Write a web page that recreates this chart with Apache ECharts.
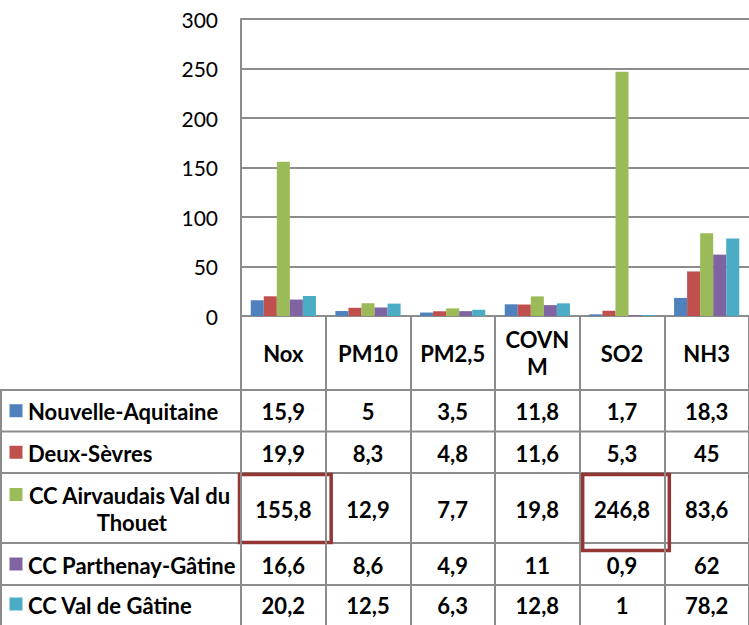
<!DOCTYPE html>
<html><head><meta charset="utf-8">
<script src="https://cdn.jsdelivr.net/npm/echarts@6/dist/echarts.min.js"></script>
<style>html,body{margin:0;padding:0;background:#fff}#c{width:749px;height:625px}</style>
</head><body><div id="c"></div>
<script>
const categories = ['Nox', 'PM10', 'PM2,5', 'COVNM', 'SO2', 'NH3'];
const categoryLabels = ['Nox', 'PM10', 'PM2,5', 'COVN\nM', 'SO2', 'NH3'];
const seriesNames = ['Nouvelle-Aquitaine', 'Deux-Sèvres', 'CC Airvaudais Val du Thouet', 'CC Parthenay-Gâtine', 'CC Val de Gâtine'];
const nouvelleAquitaine = [15.9, 5, 3.5, 11.8, 1.7, 18.3];
const deuxSevres = [19.9, 8.3, 4.8, 11.6, 5.3, 45];
const ccAirvaudais = [155.8, 12.9, 7.7, 19.8, 246.8, 83.6];
const ccParthenay = [16.6, 8.6, 4.9, 11, 0.9, 62];
const ccValDeGatine = [20.2, 12.5, 6.3, 12.8, 1, 78.2];
const yTicks = [0, 50, 100, 150, 200, 250, 300];
const highlightedCells = [[2, 0], [2, 4]]; // [series index, category index]

const allSeries = [nouvelleAquitaine, deuxSevres, ccAirvaudais, ccParthenay, ccValDeGatine];
const colors = ['#4F81BD', '#C0504D', '#9BBB59', '#8064A2', '#4BACC6'];
const FONT = 'Lato, "Open Sans", sans-serif';
const FS = 22;
const GRAY = '#8c8c8c';

const W = 749, H = 625;
const gridLeft = 241, gridTop = 19, axisY = 316;
const band = (W - gridLeft) / categories.length;
const rowBounds = [390, 431.5, 473, 543, 585, 623];

const chart = echarts.init(document.getElementById('c'), null, {renderer: 'svg', width: W, height: H});

const fmt = v => String(v).replace('.', ',');

const option = {
  animation: false,
  backgroundColor: '#fff',
  grid: {left: gridLeft, right: 0, top: gridTop, bottom: H - axisY, containLabel: false},
  xAxis: {
    type: 'category', data: categories,
    axisLine: {show: true, lineStyle: {color: GRAY, width: 2}},
    axisTick: {show: true, length: H - axisY + 10, lineStyle: {color: GRAY, width: 2}},
    axisLabel: {
      formatter: (v, i) => categoryLabels[i],
      margin: 37, verticalAlign: 'middle', lineHeight: 27,
      fontFamily: FONT, fontWeight: 'bold', fontSize: FS, color: '#000'
    }
  },
  yAxis: {
    type: 'value', min: yTicks[0], max: yTicks[yTicks.length - 1], interval: yTicks[1] - yTicks[0],
    axisLine: {show: true, lineStyle: {color: GRAY, width: 2}},
    axisTick: {show: false},
    splitLine: {show: true, lineStyle: {color: GRAY, width: 2}},
    axisLabel: {margin: 23, fontFamily: FONT, fontSize: FS - 1, color: '#000'}
  },
  series: allSeries.map((d, i) => ({
    name: seriesNames[i], type: 'bar', data: d,
    barGap: '0%', barCategoryGap: '23%',
    itemStyle: {color: colors[i]}
  }))
};
chart.setOption(option);

// data table
const graphics = [];
const measure = document.createElement('canvas').getContext('2d');
measure.font = 'bold ' + FS + 'px ' + FONT;

rowBounds.slice(0, -1).forEach(y => {
  graphics.push({type: 'line', shape: {x1: 0, y1: y, x2: W, y2: y}, style: {stroke: GRAY, lineWidth: 2}, silent: true});
});
graphics.push({type: 'line', shape: {x1: 1, y1: rowBounds[0], x2: 1, y2: H}, style: {stroke: GRAY, lineWidth: 2}});

seriesNames.forEach((name, r) => {
  const top = rowBounds[r], bot = rowBounds[r + 1];
  const cy = (top + bot) / 2;
  const labelW = gridLeft - 20;
  const wraps = measure.measureText(name).width > labelW;
  const lineH = 27;
  const firstLineY = wraps ? cy - lineH / 2 : cy;
  graphics.push({type: 'rect', shape: {x: 9.5, y: firstLineY - 6.5, width: 13, height: 13}, style: {fill: colors[r]}});
  const st = {
    text: name, lineHeight: lineH,
    align: wraps ? 'center' : 'left', verticalAlign: 'middle',
    font: 'bold ' + FS + 'px ' + FONT, fill: '#000'
  };
  if (wraps) { st.width = gridLeft - 34; st.overflow = 'break'; }
  graphics.push({type: 'text', x: wraps ? 129.5 : 28, y: cy + 1, style: st});
  allSeries[r].forEach((v, c) => {
    const cx = chart.convertToPixel({xAxisIndex: 0}, categories[c]);
    graphics.push({
      type: 'text', x: cx, y: cy + 1,
      style: {text: fmt(v), align: 'center', verticalAlign: 'middle', font: 'bold ' + FS + 'px ' + FONT, fill: '#000'}
    });
  });
});

highlightedCells.forEach(([r, c], k) => {
  const colL = gridLeft + c * band;
  const top = rowBounds[r], bot = rowBounds[r + 1];
  const shape = k === 0
    ? {x: colL - 1.5, y: top + 1.5, width: band + 7, height: bot - top - 2}
    : {x: colL + 3, y: top + 1.5, width: band + 2, height: bot - top + 6};
  graphics.push({type: 'rect', shape, style: {fill: 'none', stroke: '#943634', lineWidth: 3.5}});
});

chart.setOption({graphic: {elements: graphics}});
</script>
</body></html>
